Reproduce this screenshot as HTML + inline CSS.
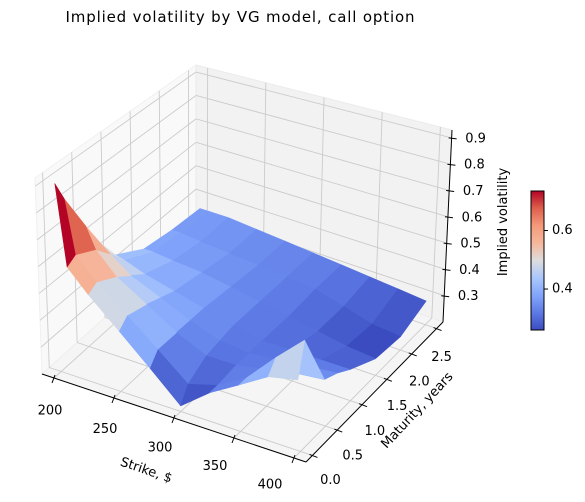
<!DOCTYPE html>
<html><head><meta charset="utf-8"><style>
html,body{margin:0;padding:0;background:#fff;}
svg{display:block;font-family:"DejaVu Sans","Liberation Sans",sans-serif;}
</style></head><body>
<svg id="chart" width="585" height="502" viewBox="0 0 585 502">
<text x="240" y="22" text-anchor="middle" font-size="15" textLength="349">Implied volatility by VG model, call option</text>
<g id="panes"></g>
<g id="grid"></g>
<g id="surface"></g>
<g id="axes"></g>
<text x="0" y="0" font-size="13" text-anchor="middle" transform="translate(145,474) rotate(19)">Strike, $</text>
<text x="0" y="0" font-size="13" text-anchor="middle" transform="translate(420,413) rotate(-47)">Maturity, years</text>
<text x="0" y="0" font-size="13" text-anchor="middle" transform="translate(507,222) rotate(-90)">Implied volatility</text>
<defs><linearGradient id="cbg" x1="0" y1="1" x2="0" y2="0"></linearGradient></defs>
<g id="colorbar"></g>
</svg>
<script>
// ---- data ----
const strikes = [200, 208, 225, 250, 275, 300, 325, 350, 375, 400];
const maturities = [0.0, 0.15, 0.5, 0.75, 1.0, 1.5, 2.0, 2.5];
const ivRowT0   = [0.90, 0.60, 0.52, 0.42, 0.32, 0.22, 0.30, 0.36, 0.42, 0.44];
const ivRowT015 = [0.82, 0.62, 0.54, 0.45, 0.36, 0.27, 0.30, 0.36, 0.46, 0.55];
const ivRowT05  = [0.66, 0.58, 0.50, 0.43, 0.36, 0.31, 0.31, 0.33, 0.35, 0.36];
const ivRowT075 = [0.55, 0.52, 0.46, 0.41, 0.36, 0.32, 0.31, 0.32, 0.33, 0.34];
const ivRowT1   = [0.46, 0.45, 0.42, 0.39, 0.36, 0.33, 0.31, 0.31, 0.31, 0.31];
const ivRowT15  = [0.39, 0.39, 0.38, 0.37, 0.35, 0.33, 0.31, 0.29, 0.27, 0.26];
const ivRowT2   = [0.37, 0.37, 0.36, 0.35, 0.34, 0.33, 0.32, 0.29, 0.26, 0.25];
const ivRowT25  = [0.36, 0.36, 0.36, 0.35, 0.34, 0.33, 0.32, 0.31, 0.30, 0.29];
const ivRows = [ivRowT0, ivRowT015, ivRowT05, ivRowT075, ivRowT1, ivRowT15, ivRowT2, ivRowT25];
const strikeTicks = [200, 250, 300, 350, 400];
const maturityTicks = [0.0, 0.5, 1.0, 1.5, 2.0, 2.5];
const zTicks = [0.3, 0.4, 0.5, 0.6, 0.7, 0.8, 0.9];
const cbTicks = [0.4, 0.6];

// ---- projection ----
const XL=[190,410], YL=[-0.13,2.63], ZL=[0.2,0.93];
const F={A:[42,374],B:[306,462],C:[443,322],D:[196,236]};
const T={A:[35,178],B:[297,242],C:[452,130],D:[196,65]};
function bil(Q,u,v){
  const r=[0,0];
  for(let i=0;i<2;i++) r[i]=Q.A[i]*(1-u)*(1-v)+Q.B[i]*u*(1-v)+Q.C[i]*u*v+Q.D[i]*(1-u)*v;
  return r;
}
function proj(x,y,z){
  const u=(x-XL[0])/(XL[1]-XL[0]), v=(y-YL[0])/(YL[1]-YL[0]), w=(z-ZL[0])/(ZL[1]-ZL[0]);
  const f=bil(F,u,v), t=bil(T,u,v);
  return [f[0]+(t[0]-f[0])*w, f[1]+(t[1]-f[1])*w];
}
const NS='http://www.w3.org/2000/svg';
function mk(tag,attrs,parent){const e=document.createElementNS(NS,tag);for(const k in attrs)e.setAttribute(k,attrs[k]);parent.appendChild(e);return e;}
function pts(a){return a.map(p=>p[0].toFixed(1)+','+p[1].toFixed(1)).join(' ');}

// panes
const panes=document.getElementById('panes');
let p=mk('polygon',{points:pts([proj(XL[0],YL[0],ZL[0]),proj(XL[0],YL[1],ZL[0]),proj(XL[0],YL[1],ZL[1]),proj(XL[0],YL[0],ZL[1])]),fill:'#f9f9f9',stroke:'#f0f0f0'},panes);


p=mk('polygon',{points:pts([proj(XL[0],YL[1],ZL[0]),proj(XL[1],YL[1],ZL[0]),proj(XL[1],YL[1],ZL[1]),proj(XL[0],YL[1],ZL[1])]),fill:'#f2f2f2',stroke:'#ebebeb'},panes);


p=mk('polygon',{points:pts([proj(XL[0],YL[0],ZL[0]),proj(XL[1],YL[0],ZL[0]),proj(XL[1],YL[1],ZL[0]),proj(XL[0],YL[1],ZL[0])]),fill:'#f5f5f5',stroke:'#eeeeee'},panes);



// grid
const grid=document.getElementById('grid');
function gl(a,b){const l=mk('line',{x1:a[0],y1:a[1],x2:b[0],y2:b[1],stroke:'#cbcbcb','stroke-width':0.9},grid);

}
strikeTicks.forEach(k=>{gl(proj(k,YL[0],ZL[0]),proj(k,YL[1],ZL[0]));gl(proj(k,YL[1],ZL[0]),proj(k,YL[1],ZL[1]));});
maturityTicks.forEach(t=>{gl(proj(XL[0],t,ZL[0]),proj(XL[1],t,ZL[0]));gl(proj(XL[0],t,ZL[0]),proj(XL[0],t,ZL[1]));});
zTicks.forEach(z=>{gl(proj(XL[0],YL[0],z),proj(XL[0],YL[1],z));gl(proj(XL[0],YL[1],z),proj(XL[1],YL[1],z));});

// colormap
const cmStops=[[0,[59,76,192]],[0.125,[93,122,229]],[0.25,[130,165,251]],[0.375,[170,199,253]],[0.5,[221,221,221]],[0.625,[246,183,156]],[0.75,[244,154,123]],[0.875,[222,96,76]],[1,[180,4,38]]];
function cmap(t){t=Math.max(0,Math.min(1,t));for(let i=1;i<cmStops.length;i++){if(t<=cmStops[i][0]){const a=cmStops[i-1],b=cmStops[i];const f=(t-a[0])/(b[0]-a[0]);return 'rgb('+[0,1,2].map(j=>Math.round(a[1][j]+(b[1][j]-a[1][j])*f)).join(',')+')';}}return 'rgb(180,4,38)';}

// surface faces
const faces=[];
for(let i=0;i<maturities.length-1;i++)for(let j=0;j<strikes.length-1;j++){
  const c=[[strikes[j],maturities[i],ivRows[i][j]],[strikes[j+1],maturities[i],ivRows[i][j+1]],[strikes[j+1],maturities[i+1],ivRows[i+1][j+1]],[strikes[j],maturities[i+1],ivRows[i+1][j]]];
  const avg=(c[0][2]+c[1][2]+c[2][2]+c[3][2])/4;
  const u=(strikes[j]+strikes[j+1])/2, v=(maturities[i]+maturities[i+1])/2;
  const un=(u-XL[0])/(XL[1]-XL[0]), vn=(v-YL[0])/(YL[1]-YL[0]), wn=(avg-ZL[0])/(ZL[1]-ZL[0]);
  faces.push({c,avg,d:0.433*un-0.75*vn+0.5*wn});
}
const vmin=Math.min(...faces.map(f=>f.avg)), vmax=Math.max(...faces.map(f=>f.avg));
faces.sort((a,b)=>a.d-b.d);
const surf=document.getElementById('surface');
faces.forEach(f=>{
  const col=cmap((f.avg-vmin)/(vmax-vmin));
  const poly=mk('polygon',{points:pts(f.c.map(q=>proj(q[0],q[1],q[2]))),fill:col,stroke:col,'stroke-width':0.6,'stroke-linejoin':'round'},surf);
  
  
});

// axes
const ax=document.getElementById('axes');
function line(a,b,name){const l=mk('line',{x1:a[0],y1:a[1],x2:b[0],y2:b[1],stroke:'#000','stroke-width':1},ax);

}
function label(x,y,s,name,anchor){const t=mk('text',{x:x,y:y,'font-size':13,'text-anchor':anchor||'middle','dominant-baseline':'middle'},ax);t.textContent=s;

}
line(proj(XL[0],YL[0],ZL[0]),proj(XL[1],YL[0],ZL[0]),'x-axis-line');
line(proj(XL[1],YL[0],ZL[0]),proj(XL[1],YL[1],ZL[0]),'y-axis-line');
line(proj(XL[1],YL[1],ZL[0]),proj(XL[1],YL[1],ZL[1]),'z-axis-line');
strikeTicks.forEach((k,i)=>{const a=proj(k,YL[0],ZL[0]);const t=i/(strikeTicks.length-1);
  line([a[0]+1,a[1]-3],[a[0]-2,a[1]+5],'x-tick');
  label(a[0]-4-20*t,a[1]+33-6*t,String(k),'x-tick-label');});
maturityTicks.forEach((m,i)=>{const a=proj(XL[1],m,ZL[0]);const t=i/(maturityTicks.length-1);
  line([a[0]-3,a[1]-1],[a[0]+5,a[1]+2],'y-tick');
  label(a[0]+18-13*t,a[1]+25+4*t,m.toFixed(1),'y-tick-label');});
zTicks.forEach(z=>{const a=proj(XL[1],YL[1],z);
  line([a[0]-3,a[1]],[a[0]+5,a[1]+1],'z-tick');
  label(a[0]+24,a[1]+1,z.toFixed(1),'z-tick-label');});

// colorbar
const cb=document.getElementById('colorbar');
const grad=document.getElementById('cbg');
for(let i=0;i<=8;i++){mk('stop',{offset:i/8,'stop-color':cmap(i/8)},grad);}
const cbX=531,cbW=13,cbTop=191,cbBot=330;
let r=mk('rect',{x:cbX,y:cbTop,width:cbW,height:cbBot-cbTop,fill:'url(#cbg)',stroke:'#000','stroke-width':1},cb);


cbTicks.forEach(v=>{const y=cbBot-(v-vmin)/(vmax-vmin)*(cbBot-cbTop);
  const l=mk('line',{x1:cbX+cbW,y1:y,x2:cbX+cbW+4,y2:y,stroke:'#000'},cb);
  
  
  const t=mk('text',{x:cbX+cbW+8,y:y,'font-size':13,'dominant-baseline':'middle'},cb);t.textContent=v.toFixed(1);
  
  });
</script>
</body></html>
